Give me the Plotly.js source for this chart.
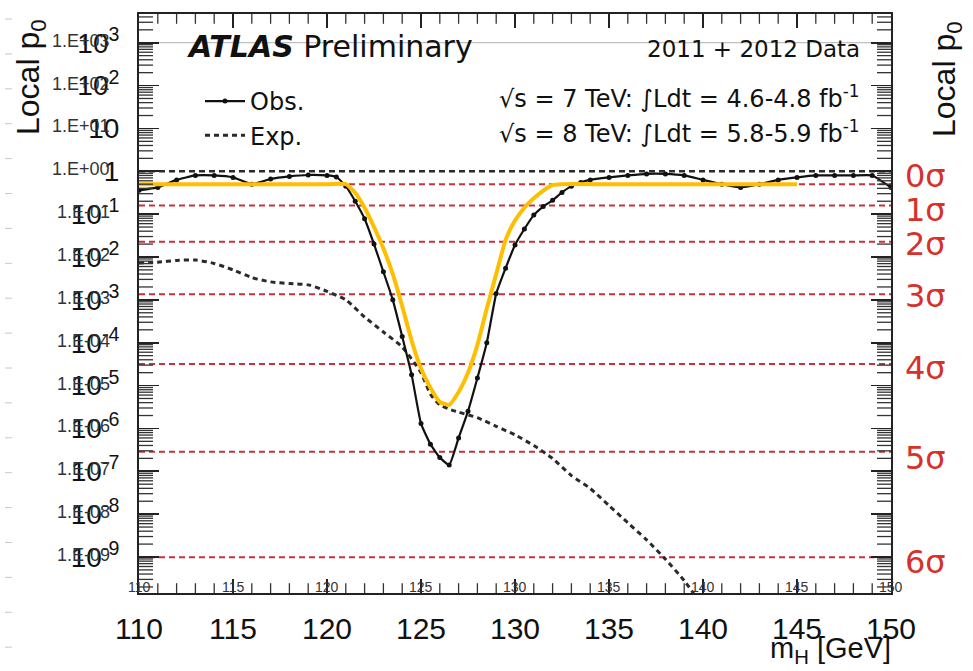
<!DOCTYPE html>
<html>
<head>
<meta charset="utf-8">
<script src="https://cdn.plot.ly/plotly-3.0.1.min.js"></script>
<style>html,body{margin:0;padding:0;background:#fff;}#chart{width:973px;height:671px;}</style>
</head>
<body>
<div id="chart"></div>
<script>
// ---- data (m_H in GeV, local p0) ----
const obsMass = [110,111,112,113,114,115,116,117,118,119,120,120.5,121,121.5,122,122.5,123,123.5,124,124.5,125,125.5,126,126.5,127,127.5,128,128.5,129,129.5,130,130.5,131,131.5,132,132.5,133,133.5,134,135,136,137,138,139,140,141,142,143,144,145,146,147,148,149,150];
const obsP0 = [0.36,0.42,0.63,0.80,0.80,0.72,0.50,0.66,0.76,0.82,0.80,0.74,0.45,0.20,0.078,0.020,4.5e-3,1.0e-3,1.4e-4,1.8e-5,1.3e-6,4.3e-7,2.1e-7,1.4e-7,6.0e-7,2.5e-6,1.5e-5,1.0e-4,1.4e-3,5.5e-3,1.9e-2,4.5e-2,9.5e-2,0.15,0.21,0.32,0.45,0.55,0.63,0.72,0.80,0.87,0.87,0.80,0.63,0.50,0.42,0.50,0.63,0.72,0.80,0.80,0.80,0.80,0.42];

const expMass = [110,111,112,113,114,115,116,117,118,119,120,121,122,123,124,125,125.5,126,126.5,127,128,129,130,131,132,133,134,135,136,137,138,139,139.5];
const expLog10P0 = [-2.14,-2.12,-2.08,-2.07,-2.15,-2.30,-2.48,-2.58,-2.62,-2.65,-2.80,-3.00,-3.40,-3.75,-4.10,-4.70,-5.20,-5.45,-5.55,-5.62,-5.75,-5.95,-6.15,-6.40,-6.70,-7.10,-7.40,-7.80,-8.20,-8.60,-9.05,-9.55,-9.85];

const fitMass = [110,115,120,121,121.5,122,122.5,123,123.5,124,124.5,125,125.5,126,126.5,127,127.5,128,128.5,129,129.5,130,130.5,131,131.5,132,132.5,135,140,145];
const fitLog10P0 = [-0.301,-0.301,-0.301,-0.301,-0.50,-0.85,-1.30,-1.80,-2.40,-3.15,-3.95,-4.60,-5.05,-5.38,-5.45,-5.15,-4.70,-4.05,-3.20,-2.40,-1.60,-1.15,-0.85,-0.63,-0.45,-0.32,-0.301,-0.301,-0.301,-0.301];

const sigmaLabels = ["0σ","1σ","2σ","3σ","4σ","5σ","6σ"];
const sigmaP0 = [0.5,0.1587,0.02275,1.35e-3,3.17e-5,2.87e-7,9.87e-10];

const xTicks = [110,115,120,125,130,135,140,145,150];
const yDecades = [3,2,1,0,-1,-2,-3,-4,-5,-6,-7,-8,-9];
const yBigLabels = ["10<sup>3</sup>","10<sup>2</sup>","10","1","10<sup>-1</sup>","10<sup>-2</sup>","10<sup>-3</sup>","10<sup>-4</sup>","10<sup>-5</sup>","10<sup>-6</sup>","10<sup>-7</sup>","10<sup>-8</sup>","10<sup>-9</sup>"];
const ySmallLabels = ["1.E+03","1.E+02","1.E+01","1.E+00","1.E-01","1.E-02","1.E-03","1.E-04","1.E-05","1.E-06","1.E-07","1.E-08","1.E-09"];

// ---- geometry helpers ----
const W = 973, H = 671, L = 139, R = 891, T = 14, B = 593;
const X_RANGE = [110, 150], Y_RANGE = [-9.84, 3.67];
const px = v => (v - L) / (R - L);
const py = v => (B - v) / (B - T);
const FONT = "Liberation Sans, Arial, sans-serif";
const WIDE = "DejaVu Sans, Liberation Sans, sans-serif";

const traces = [];
traces.push({x:X_RANGE, y:[1000,1000], mode:'lines', line:{color:'#b0b0b0', width:1}, showlegend:false, hoverinfo:'skip'});
traces.push({x:X_RANGE, y:[1,1], mode:'lines', line:{color:'#2a2a2a', width:2.5, dash:'6px,4px'}, showlegend:false, hoverinfo:'skip'});
sigmaP0.forEach(p => traces.push({x:X_RANGE, y:[p,p], mode:'lines', line:{color:'#c8323a', width:2, dash:'6px,4px'}, showlegend:false, hoverinfo:'skip'}));
traces.push({x:expMass, y:expLog10P0.map(v => Math.pow(10, v)), mode:'lines', name:'Exp.', line:{color:'#2a2a2a', width:3, dash:'5px,4px', shape:'spline', smoothing:0.6}});
traces.push({x:obsMass, y:obsP0, mode:'lines+markers', name:'Obs.', line:{color:'#111', width:2.2, shape:'spline', smoothing:0.4}, marker:{color:'#111', size:5}});
traces.push({x:fitMass, y:fitLog10P0.map(v => Math.pow(10, v)), mode:'lines', line:{color:'#FFBF00', width:4, shape:'spline', smoothing:0.5}, showlegend:false});

// minor ticks, drawn as edge markers clipped by the plot area (only the inner half shows)
const minorY = [];
for (let d = -10; d <= 3; d++) for (let m = 2; m <= 9; m++) minorY.push(m * Math.pow(10, d));
const minorX = [];
for (let v = 110; v <= 150; v++) if (v % 5 !== 0) minorX.push(v);
const tickMark = (xs, ys, sym, size) => ({x:xs, y:ys, mode:'markers', cliponaxis:true, showlegend:false, hoverinfo:'skip',
  marker:{symbol:sym, size:size, color:'#333', line:{color:'#333', width:1.3}}});
traces.push(tickMark(minorY.map(() => X_RANGE[0]), minorY, 'line-ew', 20));
traces.push(tickMark(minorY.map(() => X_RANGE[1]), minorY, 'line-ew', 20));
traces.push(tickMark(minorX, minorX.map(() => Math.pow(10, Y_RANGE[0])), 'line-ns', 14));
traces.push(tickMark(minorX, minorX.map(() => Math.pow(10, Y_RANGE[1])), 'line-ns', 14));

const ann = [];
yDecades.forEach((d, i) => ann.push({xref:'paper', yref:'y', x:px(112), y:d, xanchor:'right', yanchor:'middle', yshift:2, text:ySmallLabels[i], showarrow:false, font:{family:FONT, size:18, color:'#333'}}));
xTicks.forEach(v => ann.push({xref:'x', yref:'paper', x:v, y:py(587), xanchor:'center', yanchor:'middle', text:String(v), showarrow:false, font:{family:FONT, size:14, color:'#333'}}));
const sigShift = [8,-4,-2,-2,-4,-6,-5];
sigmaP0.forEach((p, i) => ann.push({xref:'paper', yref:'y', x:px(903), y:Math.log10(p), xanchor:'left', yanchor:'middle', yshift:sigShift[i], text:sigmaLabels[i], showarrow:false, font:{family:WIDE, size:32, color:'#d6312b'}}));
ann.push({xref:'paper', yref:'paper', x:px(185), y:py(46), xanchor:'left', yanchor:'middle', text:'<b><i>ATLAS</i></b> Preliminary', showarrow:false, font:{family:WIDE, size:30, color:'#111'}});
ann.push({xref:'paper', yref:'paper', x:px(862), y:py(49), xanchor:'right', yanchor:'middle', text:'2011 + 2012 Data', showarrow:false, font:{family:WIDE, size:23, color:'#111'}});
ann.push({xref:'paper', yref:'paper', x:px(862), y:py(97), xanchor:'right', yanchor:'middle', text:'√s = 7 TeV: ∫Ldt = 4.6-4.8 fb<sup>-1</sup>', showarrow:false, font:{family:WIDE, size:24, color:'#111'}});
ann.push({xref:'paper', yref:'paper', x:px(862), y:py(132), xanchor:'right', yanchor:'middle', text:'√s = 8 TeV: ∫Ldt = 5.8-5.9 fb<sup>-1</sup>', showarrow:false, font:{family:WIDE, size:24, color:'#111'}});
ann.push({xref:'paper', yref:'paper', x:px(30), y:py(77), xanchor:'center', yanchor:'middle', textangle:-90, text:'Local p<sub>0</sub>', showarrow:false, font:{family:FONT, size:32, color:'#111'}});
ann.push({xref:'paper', yref:'paper', x:px(946), y:py(79), xanchor:'center', yanchor:'middle', textangle:-90, text:'Local p<sub>0</sub>', showarrow:false, font:{family:FONT, size:32, color:'#111'}});
ann.push({xref:'paper', yref:'paper', x:px(893), y:py(650), xanchor:'right', yanchor:'middle', text:'m<sub>H</sub> [GeV]', showarrow:false, font:{family:FONT, size:29, color:'#111'}});

const shapes = [];
for (let k = 0; k < 19; k++) {
  const yy = 19 + k * 34.9;
  shapes.push({type:'line', xref:'paper', yref:'paper', x0:px(5), x1:px(12), y0:py(yy), y1:py(yy), line:{color:'#c8c8c8', width:1}});
}

const layout = {
  width: W, height: H,
  margin: {l: L, r: W - R, t: T, b: H - B, pad: 0},
  paper_bgcolor: '#fff', plot_bgcolor: '#fff',
  showlegend: true,
  legend: {x: px(200), y: py(79), xanchor:'left', yanchor:'top', bgcolor:'rgba(0,0,0,0)', font:{family:WIDE, size:24, color:'#111'}, traceorder:'reversed', itemwidth:40, tracegroupgap:0},
  xaxis: {range:X_RANGE, tickvals:xTicks, ticks:'inside', ticklen:14, tickwidth:1.5, tickcolor:'#222',
          showline:true, linewidth:2, linecolor:'#222', mirror:'allticks', showgrid:false, zeroline:false,
          tickfont:{family:FONT, size:30, color:'#111'}, ticklabelstandoff:8},
  yaxis: {type:'log', range:Y_RANGE, tickvals:yDecades.map(d => Math.pow(10, d)), ticktext:yBigLabels,
          ticks:'inside', ticklen:20, tickwidth:1.8, tickcolor:'#222',
          showline:true, linewidth:2, linecolor:'#222', mirror:'allticks', showgrid:false, zeroline:false,
          tickfont:{family:FONT, size:28, color:'#111'}, ticklabelstandoff:12},
  annotations: ann,
  shapes: shapes
};

Plotly.newPlot('chart', traces, layout, {displayModeBar:false, staticPlot:true});
</script>
</body>
</html>
